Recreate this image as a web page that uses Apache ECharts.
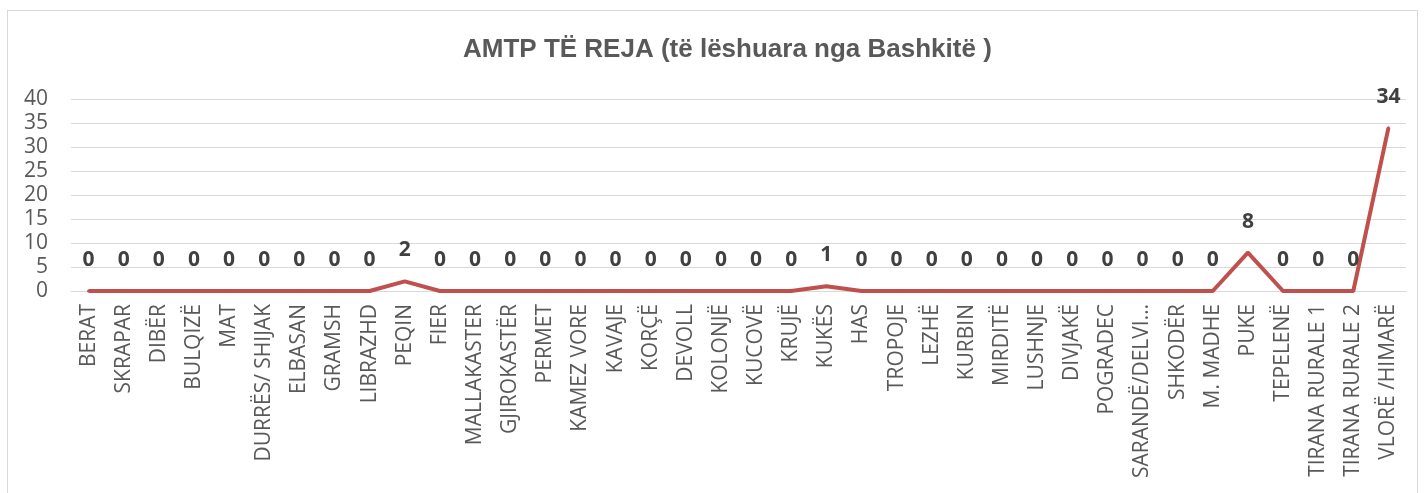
<!DOCTYPE html>
<html>
<head>
<meta charset="utf-8">
<script src="https://cdn.jsdelivr.net/npm/echarts@6/dist/echarts.min.js"></script>
<style>
  html, body { margin: 0; padding: 0; background: #fff; }
  #frame { position: absolute; left: 7px; top: 10px; width: 1411px; height: 490px; border: 1px solid #d9d9d9; box-sizing: border-box; }
  #chart1 { position: absolute; left: 0; top: 0; width: 1426px; height: 493px; }
</style>
</head>
<body>
<div id="frame"></div>
<div id="chart1"></div>
<script>
var cities = ['BERAT', 'SKRAPAR', 'DIBËR', 'BULQIZË', 'MAT', 'DURRËS/ SHIJAK', 'ELBASAN', 'GRAMSH',
  'LIBRAZHD', 'PEQIN', 'FIER', 'MALLAKASTER', 'GJIROKASTËR', 'PERMET', 'KAMEZ VORE', 'KAVAJE',
  'KORÇË', 'DEVOLL', 'KOLONJË', 'KUCOVË', 'KRUJË', 'KUKËS', 'HAS', 'TROPOJE', 'LEZHË', 'KURBIN',
  'MIRDITË', 'LUSHNJE', 'DIVJAKË', 'POGRADEC', 'SARANDË/DELVI…', 'SHKODËR', 'M. MADHE', 'PUKE',
  'TEPELENË', 'TIRANA RURALE 1', 'TIRANA RURALE 2', 'VLORË /HIMARË'];
var amtp = [0, 0, 0, 0, 0, 0, 0, 0, 0, 2, 0, 0, 0, 0, 0, 0, 0, 0, 0, 0, 0, 1, 0, 0, 0, 0,
  0, 0, 0, 0, 0, 0, 0, 8, 0, 0, 0, 34];
var titleText = 'AMTP TË REJA (të lëshuara nga Bashkitë )';

var chartDom = document.getElementById('chart1');
var myChart = echarts.init(chartDom);
var option;

option = {
  animation: false,
  title: {
    text: titleText,
    left: 458,
    top: 32,
    textStyle: {
      fontFamily: 'Liberation Sans',
      fontSize: 26,
      fontWeight: 'bold',
      color: '#595959'
    }
  },
  grid: {
    left: 71,
    right: 20,
    top: 99,
    bottom: 202
  },
  xAxis: {
    type: 'category',
    data: cities,
    boundaryGap: true,
    axisLine: { lineStyle: { color: '#d9d9d9' } },
    axisTick: { show: false },
    axisLabel: {
      rotate: 90,
      interval: 0,
      margin: 13,
      fontFamily: 'Open Sans',
      fontSize: 21,
      color: '#595959'
    }
  },
  yAxis: {
    type: 'value',
    min: 0,
    max: 40,
    interval: 5,
    axisLine: { show: false },
    axisTick: { show: false },
    axisLabel: {
      margin: 23,
      fontFamily: 'Open Sans',
      fontSize: 21,
      color: '#595959'
    },
    splitLine: { lineStyle: { color: '#d9d9d9', width: 1 } }
  },
  series: [
    {
      type: 'line',
      data: amtp,
      symbol: 'circle',
      symbolSize: 3,
      showSymbol: true,
      lineStyle: { color: '#C0504D', width: 4 },
      itemStyle: { color: '#C0504D' },
      label: {
        show: true,
        position: 'top',
        distance: 19,
        fontFamily: 'Open Sans',
        fontSize: 21,
        fontWeight: 'bold',
        color: '#404040'
      }
    }
  ]
};

option && myChart.setOption(option);
</script>
</body>
</html>
